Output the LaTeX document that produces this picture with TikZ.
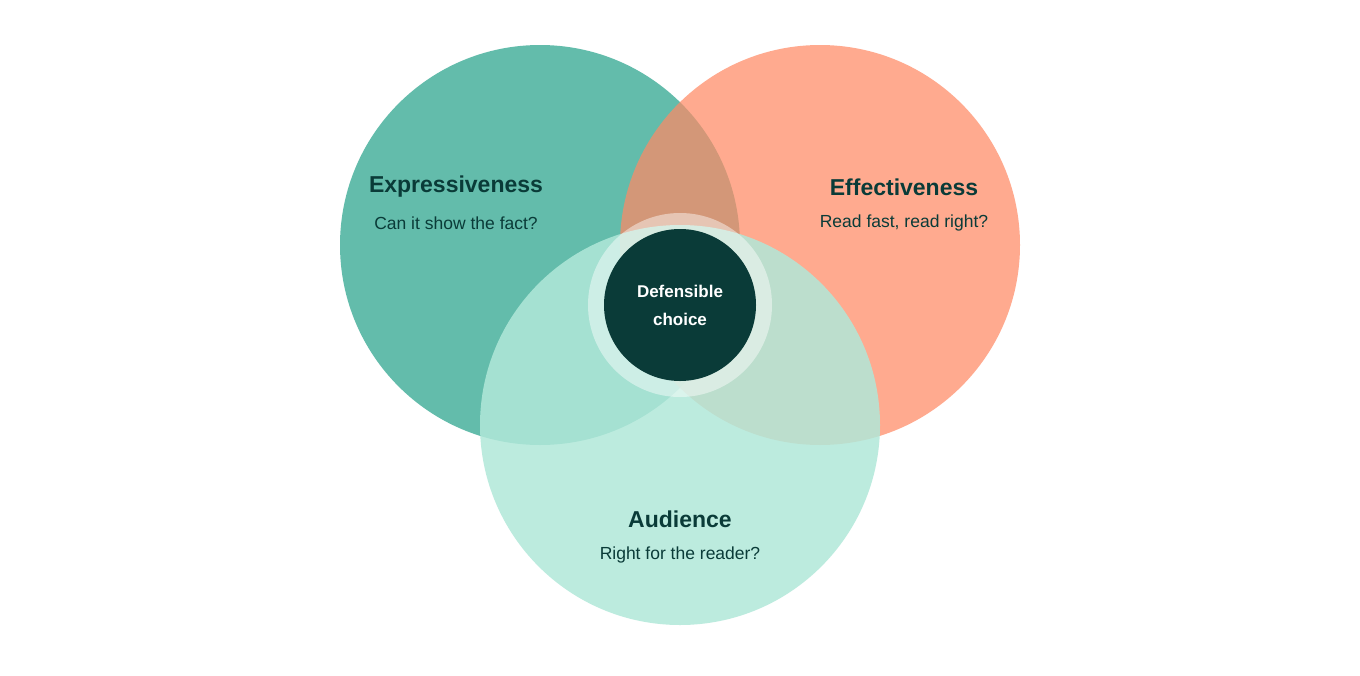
\documentclass[tikz,border=0pt]{standalone}
\usepackage{fontspec}
\setmainfont{Liberation Sans}
\begin{document}
\begin{tikzpicture}[x=1pt,y=-1pt,
  title/.style={font=\bfseries\fontsize{23}{26}\selectfont,text=dkg},
  sub/.style={font=\fontsize{17.5}{20}\selectfont,text=dkg}]
\definecolor{dkg}{HTML}{0A3B38}
\definecolor{lt}{HTML}{2DA58E}
\definecolor{rt}{HTML}{FF8A65}
\definecolor{bt}{HTML}{B1E8D9}
\useasboundingbox[fill=white] (0,0) rectangle (1360,675);
\fill[lt,opacity=0.74] (540,245) circle (200);
\fill[rt,opacity=0.72] (820,245) circle (200);
\fill[bt,opacity=0.85] (680,425) circle (200);
\fill[white,opacity=0.45] (680,305) circle (92);
\node[circle,fill=dkg,minimum size=152pt,inner sep=0pt,align=center,text=white,font=\bfseries\fontsize{17}{28}\selectfont] (c) at (680,305) {Defensible\\choice};
\node[title] (e1) at (456,187) {Expressiveness};
\node[sub] (e2) at (456,223) {Can it show the fact?};
\node[title] (f1) at (904,187) {Effectiveness};
\node[sub] (f2) at (904,223) {Read fast, read right?};
\node[title] (a1) at (680,519) {Audience};
\node[sub] (a2) at (680,555) {Right for the reader?};
\end{tikzpicture}
\end{document}
